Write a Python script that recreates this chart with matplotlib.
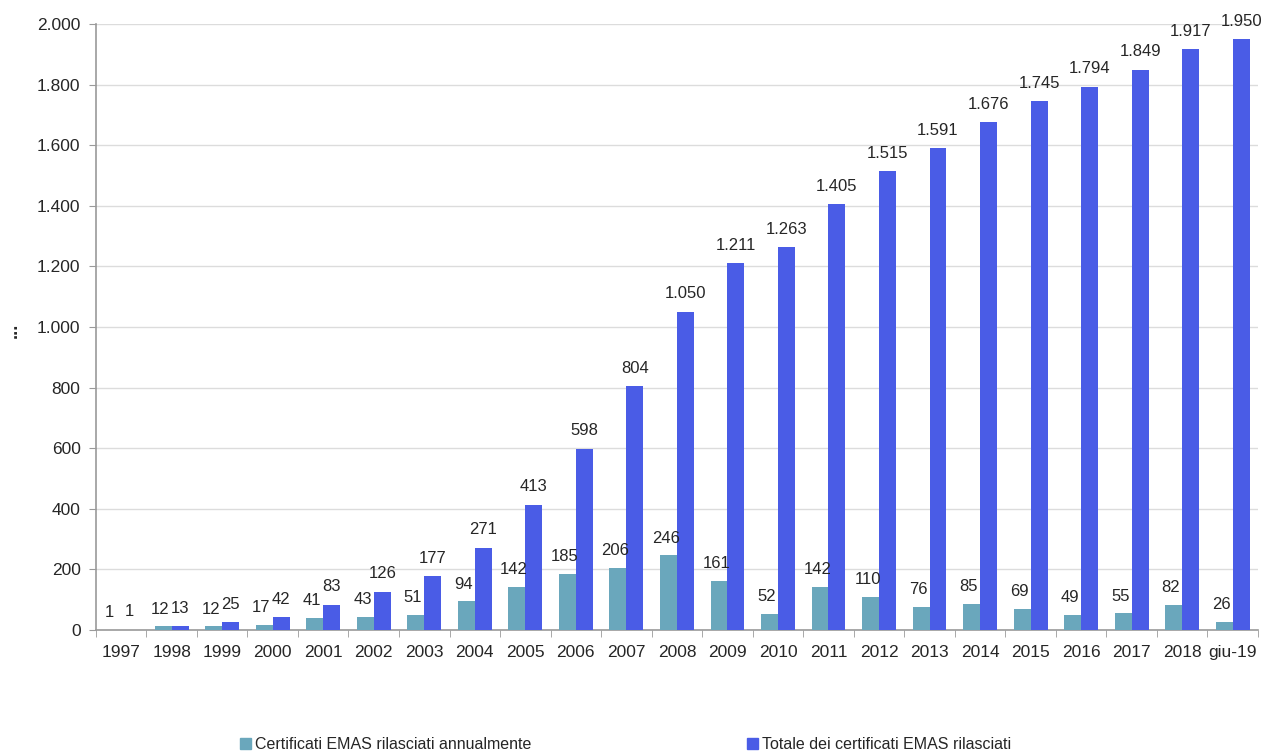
import matplotlib
matplotlib.use("Agg")
import matplotlib.pyplot as plt
import matplotlib.ticker as mticker
from matplotlib.patches import Patch
import numpy as np

categories = ["1997", "1998", "1999", "2000", "2001", "2002", "2003", "2004", "2005",
              "2006", "2007", "2008", "2009", "2010", "2011", "2012", "2013", "2014",
              "2015", "2016", "2017", "2018", "giu-19"]
annual = [1, 12, 12, 17, 41, 43, 51, 94, 142, 185, 206, 246, 161, 52, 142, 110, 76, 85,
          69, 49, 55, 82, 26]
total = [1, 13, 25, 42, 83, 126, 177, 271, 413, 598, 804, 1050, 1211, 1263, 1405, 1515,
         1591, 1676, 1745, 1794, 1849, 1917, 1950]
series_names = ["Certificati EMAS rilasciati annualmente",
                "Totale dei certificati EMAS rilasciati"]

plt.rcParams['font.family'] = ['Liberation Sans', 'DejaVu Sans']

c_teal = '#6AA7BC'
c_blue = '#4A5CE6'
txt = '#262626'

fig = plt.figure(figsize=(12.61, 7.54), dpi=100)
ax = fig.add_axes([0.076, 0.1645, 0.9216, 0.8035])

x = np.arange(len(categories))
w = 0.335
b1 = ax.bar(x - w / 2, annual, w, color=c_teal, zorder=3)
b2 = ax.bar(x + w / 2, total, w, color=c_blue, zorder=3)

def fmt(v):
    return f"{v:,}".replace(",", ".")

for rect, v in zip(b1, annual):
    ax.annotate(fmt(v), (rect.get_x() + rect.get_width() / 2, rect.get_height()),
                xytext=(-2, 7), textcoords='offset points', ha='center', va='bottom',
                fontsize=12, color=txt, zorder=5, annotation_clip=False)
for rect, v in zip(b2, total):
    ax.annotate(fmt(v), (rect.get_x() + rect.get_width() / 2, rect.get_height()),
                xytext=(0, 7.5), textcoords='offset points', ha='center', va='bottom',
                fontsize=12, color=txt, zorder=5, annotation_clip=False)

ax.set_xlim(-0.5, len(categories) - 0.5)
ax.set_ylim(0, 2000)
ax.yaxis.set_major_locator(mticker.MultipleLocator(200))
ax.yaxis.set_major_formatter(mticker.FuncFormatter(lambda v, p: fmt(int(v))))
ax.set_xticks(x)
ax.set_xticklabels(categories)
ax.set_xticks(np.arange(-0.5, len(categories), 1), minor=True)
ax.tick_params(axis='x', which='major', length=0, pad=11, labelsize=12.5, labelcolor=txt)
ax.tick_params(axis='x', which='minor', length=5, color='#9a9a9a')
ax.tick_params(axis='y', length=5, color='#9a9a9a', labelsize=12.5, labelcolor=txt, pad=6)

ax.grid(axis='y', color='#dcdcdc', linewidth=1, zorder=0)
for s in ['top', 'right']:
    ax.spines[s].set_visible(False)
for s in ['left', 'bottom']:
    ax.spines[s].set_color('#9a9a9a')
    ax.spines[s].set_linewidth(1.2)

fig.text(0.0095, 0.562, "...", rotation=90, fontsize=13, fontweight='bold', color=txt,
         ha='center', va='center')

handles = [Patch(color=c_teal), Patch(color=c_blue)]
fig.legend(handles, series_names, loc='center', bbox_to_anchor=(0.496, 0.013), ncol=2,
           frameon=False, fontsize=11.5, handlelength=0.7, handleheight=0.7,
           handletextpad=0.25, columnspacing=13.5, labelcolor=txt)

fig.savefig("out.png", dpi=100)
